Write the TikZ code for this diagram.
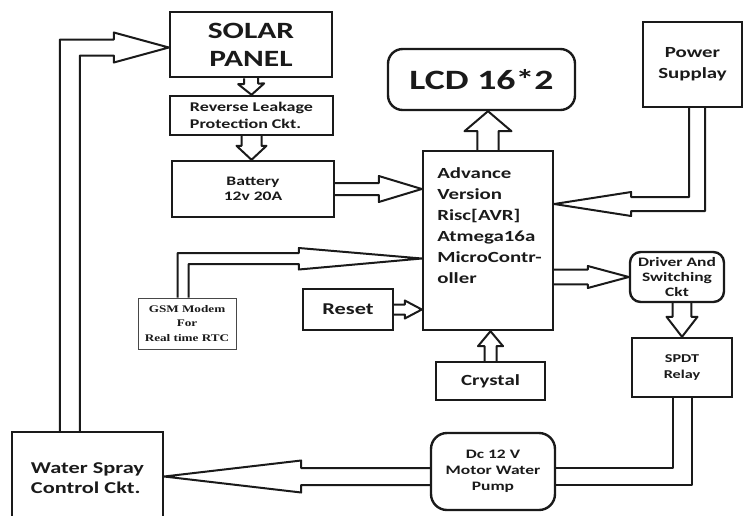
\documentclass[tikz,border=0pt]{standalone}
\usepackage{fontspec}
\usetikzlibrary{calc}
\newfontfamily\cb{Carlito}[FakeStretch=1.35]
\newfontfamily\tb{Liberation Serif}[FakeStretch=1.3]
\definecolor{ink}{HTML}{1A1A1A}
\newcommand\fs[2]{\fontsize{#1}{#2}\selectfont}
\newcommand\blockarrow[5]{%
  \coordinate (ba-s) at (#1);
  \coordinate (ba-t) at (#2);
  \coordinate (ba-h) at ($(ba-t)!#5!(ba-s)$);
  \draw[arr] ($(ba-s)!#3!90:(ba-t)$) -- ($(ba-h)!#3!-90:(ba-s)$) -- ($(ba-h)!#4!-90:(ba-s)$) -- (ba-t) -- ($(ba-h)!#4!90:(ba-s)$) -- ($(ba-h)!#3!90:(ba-s)$) -- ($(ba-s)!#3!-90:(ba-t)$);
}
\begin{document}
\begin{tikzpicture}[x=0.75pt,y=-0.75pt,
  box/.style={draw=ink, line width=1.8pt, inner sep=0pt, align=center, text=ink, font=\cb\bfseries},
  arr/.style={draw=ink, line width=1.5pt, line join=round},
  line/.style={draw=ink, line width=1.5pt, line join=round}]
\useasboundingbox (0,0) rectangle (743,515);
% nodes
\node[box, minimum width=121.5pt, minimum height=48.75pt, font=\cb\bfseries\fs{17.5}{21}] (sp) at (251,44.5) {SOLAR\\PANEL};
\node[box, align=left, minimum width=122.25pt, minimum height=29.25pt, font=\cb\bfseries\fs{10}{12.5}] (rl) at (251.5,115.5) {Reverse Leakage\\Protection Ckt.};
\node[box, minimum width=121.5pt, minimum height=42pt, font=\cb\bfseries\fs{9.75}{11}] (bat) at (253,189) {Battery\\12v 20A};
\node[box, rounded corners=11pt, minimum width=140.25pt, minimum height=45.75pt, font=\cb\bfseries\fs{21}{24}] (lcd) at (481.5,79.5) {LCD 16*2};
\node[box, minimum width=74.25pt, minimum height=63.75pt, font=\cb\bfseries\fs{11.6}{16}] (ps) at (692.5,64.5) {Power\\Supplay};
\node[box, minimum width=97.5pt, minimum height=134.25pt] (mcu) at (488,240.5) {};
\node[anchor=north west, inner sep=0pt, align=left, text=ink, font=\cb\bfseries\fs{11.6}{15.75}] (mcutext) at (437,167) {Advance\\Version\\Risc[AVR]\\Atmega16a\\MicroContr-\\oller};
\node[draw=ink!80, line width=0.6pt, minimum width=73.5pt, minimum height=38.25pt, inner sep=0pt, align=center, text=ink, font=\tb\bfseries\fs{7.6}{10.9}] (gsm) at (187,323.5) {GSM Modem\\For\\Real time RTC};
\node[box, minimum width=67.5pt, minimum height=30.75pt, font=\cb\bfseries\fs{12.4}{14}] (rst) at (348,309.5) {Reset};
\node[box, minimum width=81.75pt, minimum height=28.5pt, font=\cb\bfseries\fs{11.6}{14}] (cry) at (490.5,381) {Crystal};
\node[box, rounded corners=8pt, minimum width=70.5pt, minimum height=37.5pt, font=\cb\bfseries\fs{9.7}{11.25}] (drv) at (677,277) {Driver And\\Switching\\Ckt};
\node[box, minimum width=75pt, minimum height=44.25pt, font=\cb\bfseries\fs{9}{12}] (spdt) at (682,367.5) {SPDT\\Relay};
\node[box, rounded corners=12pt, minimum width=93pt, minimum height=57.75pt, font=\cb\bfseries\fs{9.7}{12}] (pump) at (493,471.5) {Dc 12 V\\Motor Water\\Pump};
\node[box, align=left, minimum width=113.25pt, minimum height=69.75pt, font=\cb\bfseries\fs{12.4}{15}] (ws) at (87.5,478.5) {Water Spray\\Control Ckt.};
% straight block arrows
\blockarrow{sp.south}{rl.north}{5.25pt}{9.75pt}{8.25pt}
\blockarrow{rl.south}{rl.south |- bat.north}{7.5pt}{11.25pt}{10.5pt}
\blockarrow{bat.east}{bat.east -| mcu.west}{4.5pt}{9.75pt}{32.25pt}
\blockarrow{mcu.north}{mcu.north |- lcd.south}{7.9pt}{17.6pt}{15pt}
\blockarrow{cry.north}{cry.north |- mcu.south}{4.5pt}{9.4pt}{11.25pt}
\blockarrow{rst.east}{rst.east -| mcu.west}{3.75pt}{6.75pt}{12.75pt}
\blockarrow{drv.west -| mcu.east}{drv.west}{5.6pt}{8.25pt}{30.75pt}
\blockarrow{spdt.north |- drv.south}{spdt.north}{7.1pt}{11.6pt}{15pt}
% bent block arrows
\coordinate (sptip) at ($(sp.west)+(0,3)$);
\draw[arr] ($(ws.north west)+(49,0)$) |- ($(sptip)+(-55,-8)$) -- ($(sptip)+(-55,-15)$) -- (sptip) -- ($(sptip)+(-55,15)$) -- ($(sptip)+(-55,8)$) -| ($(ws.north west)+(69,0)$);
\coordinate (gtip) at ($(mcu.west)+(0,18)$);
\draw[arr] ($(gsm.north west)+(40,0)$) |- ($(gtip)+(-123,-5.5)$) -- ($(gtip)+(-123,-10.5)$) -- (gtip) -- ($(gtip)+(-123,11)$) -- ($(gtip)+(-123,5.5)$) -| ($(gsm.north west)+(51,0)$);
\coordinate (ptip) at ($(mcu.east)+(0,-36.5)$);
\draw[arr] ($(ps.south)+(-3.5,0)$) |- ($(ptip)+(77,-7)$) -- ($(ptip)+(77,-12)$) -- (ptip) -- ($(ptip)+(77,12)$) -- ($(ptip)+(77,7)$) -| ($(ps.south)+(12.5,0)$);
\draw[line] ($(spdt.south)+(-9,0)$) |- ($(pump.east)+(0,-3.5)$);
\draw[line] ($(spdt.south)+(10,0)$) |- ($(pump.east)+(0,13.5)$);
\coordinate (wtip) at ($(ws.east |- pump.west)+(0,5)$);
\draw[arr] ($(pump.west)+(0,-3.5)$) -- ($(wtip)+(137,-8.5)$) -- ($(wtip)+(137,-16)$) -- (wtip) -- ($(wtip)+(137,16)$) -- ($(wtip)+(137,8.5)$) -- ($(pump.west)+(0,13.5)$);
\end{tikzpicture}
\end{document}
